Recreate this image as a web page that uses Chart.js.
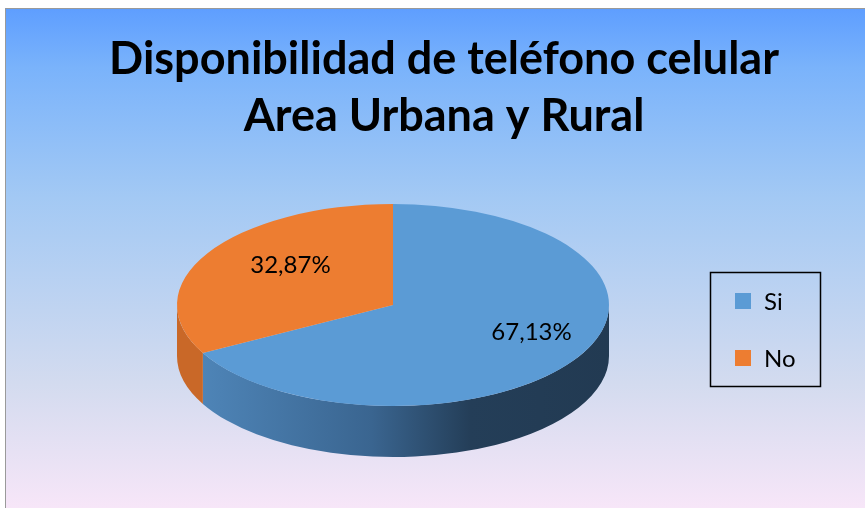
<!DOCTYPE html>
<html>
<head>
<meta charset="utf-8">
<script src="https://cdn.jsdelivr.net/npm/chart.js@4"></script>
<style>
  html, body { margin: 0; padding: 0; background: #ffffff; }
  #wrap { position: relative; width: 865px; height: 508px; }
</style>
</head>
<body>
<div id="wrap"><canvas id="c"></canvas></div>
<script>
// Chart content
const titleLines = ['Disponibilidad de teléfono celular', 'Area Urbana y Rural'];
const categories = ['Si', 'No'];
const shares = [67.13, 32.87];
const topColors = ['#5b9bd5', '#ed7d31'];

// Tilted-pie geometry on the page (centre, radii, wall height)
const PIE = { cx: 393, cy: 305, rx: 216, ry: 101, depth: 51 };
// Legend panel placement
const LEGEND = { x: 710, y: 272, w: 110, h: 114, swatch: 16, firstRow: 301, rowGap: 57, swatchX: 735, textX: 764 };

const FONT = 'Lato, "Open Sans", sans-serif';
const fmtPct = v => v.toFixed(2).replace('.', ',') + '%';

// Panel background: vertical blue-to-lilac wash with a thin frame
const panelBg = {
  id: 'panelBg',
  beforeDraw(chart) {
    const { ctx, width, height } = chart;
    ctx.save();
    ctx.fillStyle = '#ffffff';
    ctx.fillRect(0, 0, width, height);
    const g = ctx.createLinearGradient(0, 8, 0, height);
    g.addColorStop(0, '#5e9eff');
    g.addColorStop(0.12, '#7ab3fb');
    g.addColorStop(0.38, '#a3c9f4');
    g.addColorStop(0.75, '#d3dbef');
    g.addColorStop(1, '#f7e6f8');
    ctx.fillStyle = g;
    ctx.fillRect(5, 8, width - 5, height - 8);
    ctx.strokeStyle = '#9a9a9a';
    ctx.lineWidth = 1;
    ctx.beginPath();
    ctx.moveTo(5.5, height);
    ctx.lineTo(5.5, 8.5);
    ctx.lineTo(width, 8.5);
    ctx.stroke();
    ctx.restore();
  }
};

// Side walls under the visible front of each slice, then squash the arcs
const tiltedPie = {
  id: 'tiltedPie',
  beforeDatasetsDraw(chart) {
    const { ctx } = chart;
    const arcs = chart.getDatasetMeta(0).data;
    if (!arcs.length) return;
    const { cx, cy, rx, ry, depth } = PIE;
    const norm = a => {
      while (a < 0) a += Math.PI * 2;
      while (a >= Math.PI * 2) a -= Math.PI * 2;
      return a;
    };
    ctx.save();
    arcs.forEach((arc, i) => {
      const a0 = norm(arc.startAngle);
      const a1 = a0 + (arc.endAngle - arc.startAngle);
      // the front of the drum is screen angles 0..PI (and 2PI..3PI)
      [[0, Math.PI], [2 * Math.PI, 3 * Math.PI]].forEach(([s, e]) => {
        const lo = Math.max(a0, s), hi = Math.min(a1, e);
        if (hi <= lo) return;
        ctx.beginPath();
        ctx.ellipse(cx, cy, rx, ry, 0, lo, hi, false);
        ctx.ellipse(cx, cy + depth, rx, ry, 0, hi, lo, true);
        ctx.closePath();
        if (i === 0) {
          const g = ctx.createLinearGradient(cx - rx, 0, cx + rx, 0);
          g.addColorStop(0, '#5189bd');
          g.addColorStop(0.45, '#3a6590');
          g.addColorStop(0.68, '#243e58');
          g.addColorStop(1, '#223a52');
          ctx.fillStyle = g;
        } else {
          ctx.fillStyle = '#c96828';
        }
        ctx.fill();
      });
    });
    ctx.restore();
    const a = arcs[0];
    ctx.save();
    ctx.translate(cx, cy);
    ctx.scale(rx / a.outerRadius, ry / a.outerRadius);
    ctx.translate(-a.x, -a.y);
  },
  afterDatasetsDraw(chart) {
    chart.ctx.restore();
  }
};

// Percentage labels on the top face
const sliceLabels = {
  id: 'sliceLabels',
  afterDatasetsDraw(chart) {
    const { ctx } = chart;
    const arcs = chart.getDatasetMeta(0).data;
    const ds = chart.data.datasets[0];
    const { cx, cy, rx, ry } = PIE;
    ctx.save();
    ctx.font = '24px ' + FONT;
    ctx.fillStyle = '#000000';
    ctx.textAlign = 'center';
    ctx.textBaseline = 'middle';
    arcs.forEach((arc, i) => {
      const mid = (arc.startAngle + arc.endAngle) / 2;
      const f = 0.65;
      const x = cx + f * rx * Math.cos(mid) + 18;
      const y = cy + f * ry * Math.sin(mid) - 6;
      ctx.fillText(fmtPct(ds.data[i]), x, y);
    });
    ctx.restore();
  }
};

// Framed legend built from the chart's own labels and colours
const framedLegend = {
  id: 'framedLegend',
  afterDraw(chart) {
    const { ctx } = chart;
    const L = LEGEND;
    const colors = chart.data.datasets[0].backgroundColor;
    ctx.save();
    ctx.strokeStyle = '#000000';
    ctx.lineWidth = 1.5;
    ctx.strokeRect(L.x + 0.5, L.y + 0.5, L.w, L.h);
    ctx.font = '24px ' + FONT;
    ctx.textAlign = 'left';
    ctx.textBaseline = 'middle';
    chart.data.labels.forEach((lab, i) => {
      const yc = L.firstRow + i * L.rowGap;
      ctx.fillStyle = colors[i];
      ctx.fillRect(L.swatchX, yc - L.swatch / 2, L.swatch, L.swatch);
      ctx.fillStyle = '#000000';
      ctx.fillText(lab, L.textX, yc + 1);
    });
    ctx.restore();
  }
};

new Chart(document.getElementById('c'), {
  type: 'pie',
  data: {
    labels: categories,
    datasets: [{
      data: shares,
      backgroundColor: topColors,
      borderWidth: 0
    }]
  },
  options: {
    responsive: true,
    maintainAspectRatio: false,
    animation: false,
    events: [],
    layout: { padding: { left: 23, right: 0, top: 8, bottom: 10 } },
    plugins: {
      title: {
        display: true,
        text: titleLines,
        color: '#000000',
        font: { family: FONT, size: 45, weight: 'bold', lineHeight: 1.27 },
        padding: { top: 23, bottom: 10 }
      },
      legend: { display: false },
      tooltip: { enabled: false }
    }
  },
  plugins: [panelBg, tiltedPie, sliceLabels, framedLegend]
});
</script>
</body>
</html>
